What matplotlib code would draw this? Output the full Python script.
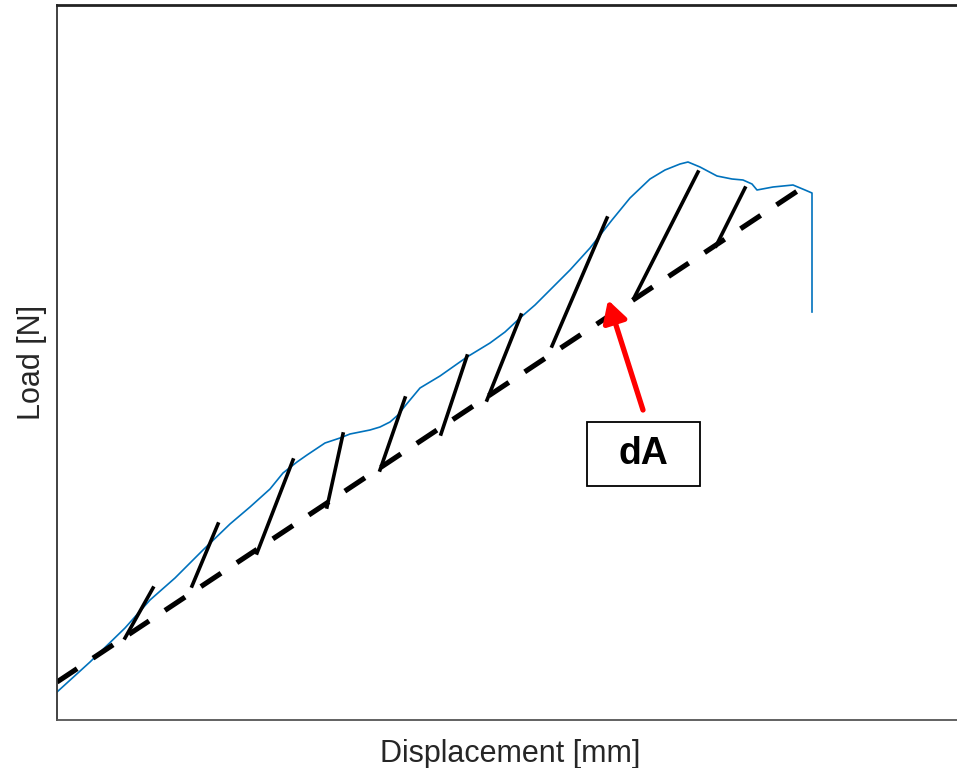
import matplotlib
matplotlib.use('Agg')
import matplotlib.pyplot as plt
from matplotlib.patches import Rectangle

plt.rcParams['font.family'] = ['Liberation Sans', 'DejaVu Sans']

# Load-displacement curve (arbitrary units)
disp = [0.00, 0.33, 0.68, 0.93, 1.18, 1.46, 1.73, 1.93, 2.13, 2.26, 2.40, 2.50,
        2.68, 2.83, 2.93, 3.03, 3.13, 3.23, 3.33, 3.41, 3.48, 3.53, 3.63, 3.83,
        4.10, 4.33, 4.48, 4.63, 4.78, 4.93, 5.13, 5.33, 5.55, 5.73, 5.93, 6.08,
        6.23, 6.31, 6.43, 6.60, 6.75, 6.86, 6.95, 7.00, 7.16, 7.36, 7.48, 7.55,
        7.55]
load = [0.28, 0.58, 0.92, 1.20, 1.42, 1.70, 1.96, 2.13, 2.31, 2.47, 2.58, 2.65,
        2.77, 2.82, 2.86, 2.88, 2.90, 2.93, 2.98, 3.05, 3.14, 3.20, 3.32, 3.44,
        3.63, 3.77, 3.88, 4.02, 4.15, 4.30, 4.50, 4.72, 5.00, 5.22, 5.41, 5.50,
        5.56, 5.58, 5.53, 5.44, 5.41, 5.40, 5.36, 5.30, 5.33, 5.35, 5.30, 5.27,
        4.08]

# Dashed line through the unloading end points
dash_x = [0.00, 7.48]
dash_y = [0.38, 5.34]

# Unloading lines: top (on curve) and bottom (on dashed line)
unl_top_x = [0.96, 1.61, 2.36, 2.86, 3.48, 4.10, 4.64, 5.50, 6.41, 6.88]
unl_top_y = [1.32, 1.96, 2.60, 2.86, 3.22, 3.64, 4.05, 5.02, 5.48, 5.32]
unl_bot_x = [0.68, 1.35, 2.00, 2.70, 3.23, 3.84, 4.30, 4.95, 5.77, 6.59]
unl_bot_y = [0.82, 1.34, 1.67, 2.13, 2.50, 2.86, 3.20, 3.74, 4.22, 4.74]

# dA annotation
arrow_tip = (5.51, 4.20)
arrow_tail = (5.86, 3.10)
box_x0, box_y0, box_w, box_h = 5.30, 2.34, 1.13, 0.64
label = 'dA'

fig = plt.figure(figsize=(9.57, 7.68), dpi=100)
ax = fig.add_axes([57 / 957, 48 / 768, 906 / 957, 715 / 768])

ax.plot(disp, load, color='#0072BD', lw=1.2)
ax.plot(dash_x, dash_y, color='black', lw=3.7, dashes=(4.7, 3.7),
        solid_capstyle='butt', dash_capstyle='butt')
for i in range(len(unl_top_x)):
    ax.plot([unl_bot_x[i], unl_top_x[i]], [unl_bot_y[i], unl_top_y[i]],
            color='black', lw=2.6)

ax.annotate('', xy=arrow_tip, xytext=arrow_tail,
            arrowprops=dict(arrowstyle='-|>,head_length=0.5,head_width=0.28',
                            color='red', lw=3.8, mutation_scale=26,
                            shrinkA=0, shrinkB=0))
ax.add_patch(Rectangle((box_x0, box_y0), box_w, box_h, facecolor='white',
                       edgecolor='black', lw=1.3, zorder=5))
ax.text(box_x0 + box_w / 2, box_y0 + box_h / 2, label, fontsize=27,
        fontweight='bold', ha='center', va='center', zorder=6)

ax.set_xlim(0, 9.06)
ax.set_ylim(0, 7.15)
ax.set_xticks([])
ax.set_yticks([])
ax.spines['top'].set_linewidth(2.0)
ax.spines['top'].set_color('#222222')
ax.spines['left'].set_linewidth(1.3)
ax.spines['left'].set_color('#333333')
ax.spines['bottom'].set_linewidth(1.3)
ax.spines['bottom'].set_color('#555555')
ax.spines['right'].set_visible(False)

ax.set_xlabel('Displacement [mm]', fontsize=22, color='#262626', labelpad=14)
ax.set_ylabel('Load [N]', fontsize=22, color='#262626', labelpad=7)

plt.savefig('out.png', dpi=100)
